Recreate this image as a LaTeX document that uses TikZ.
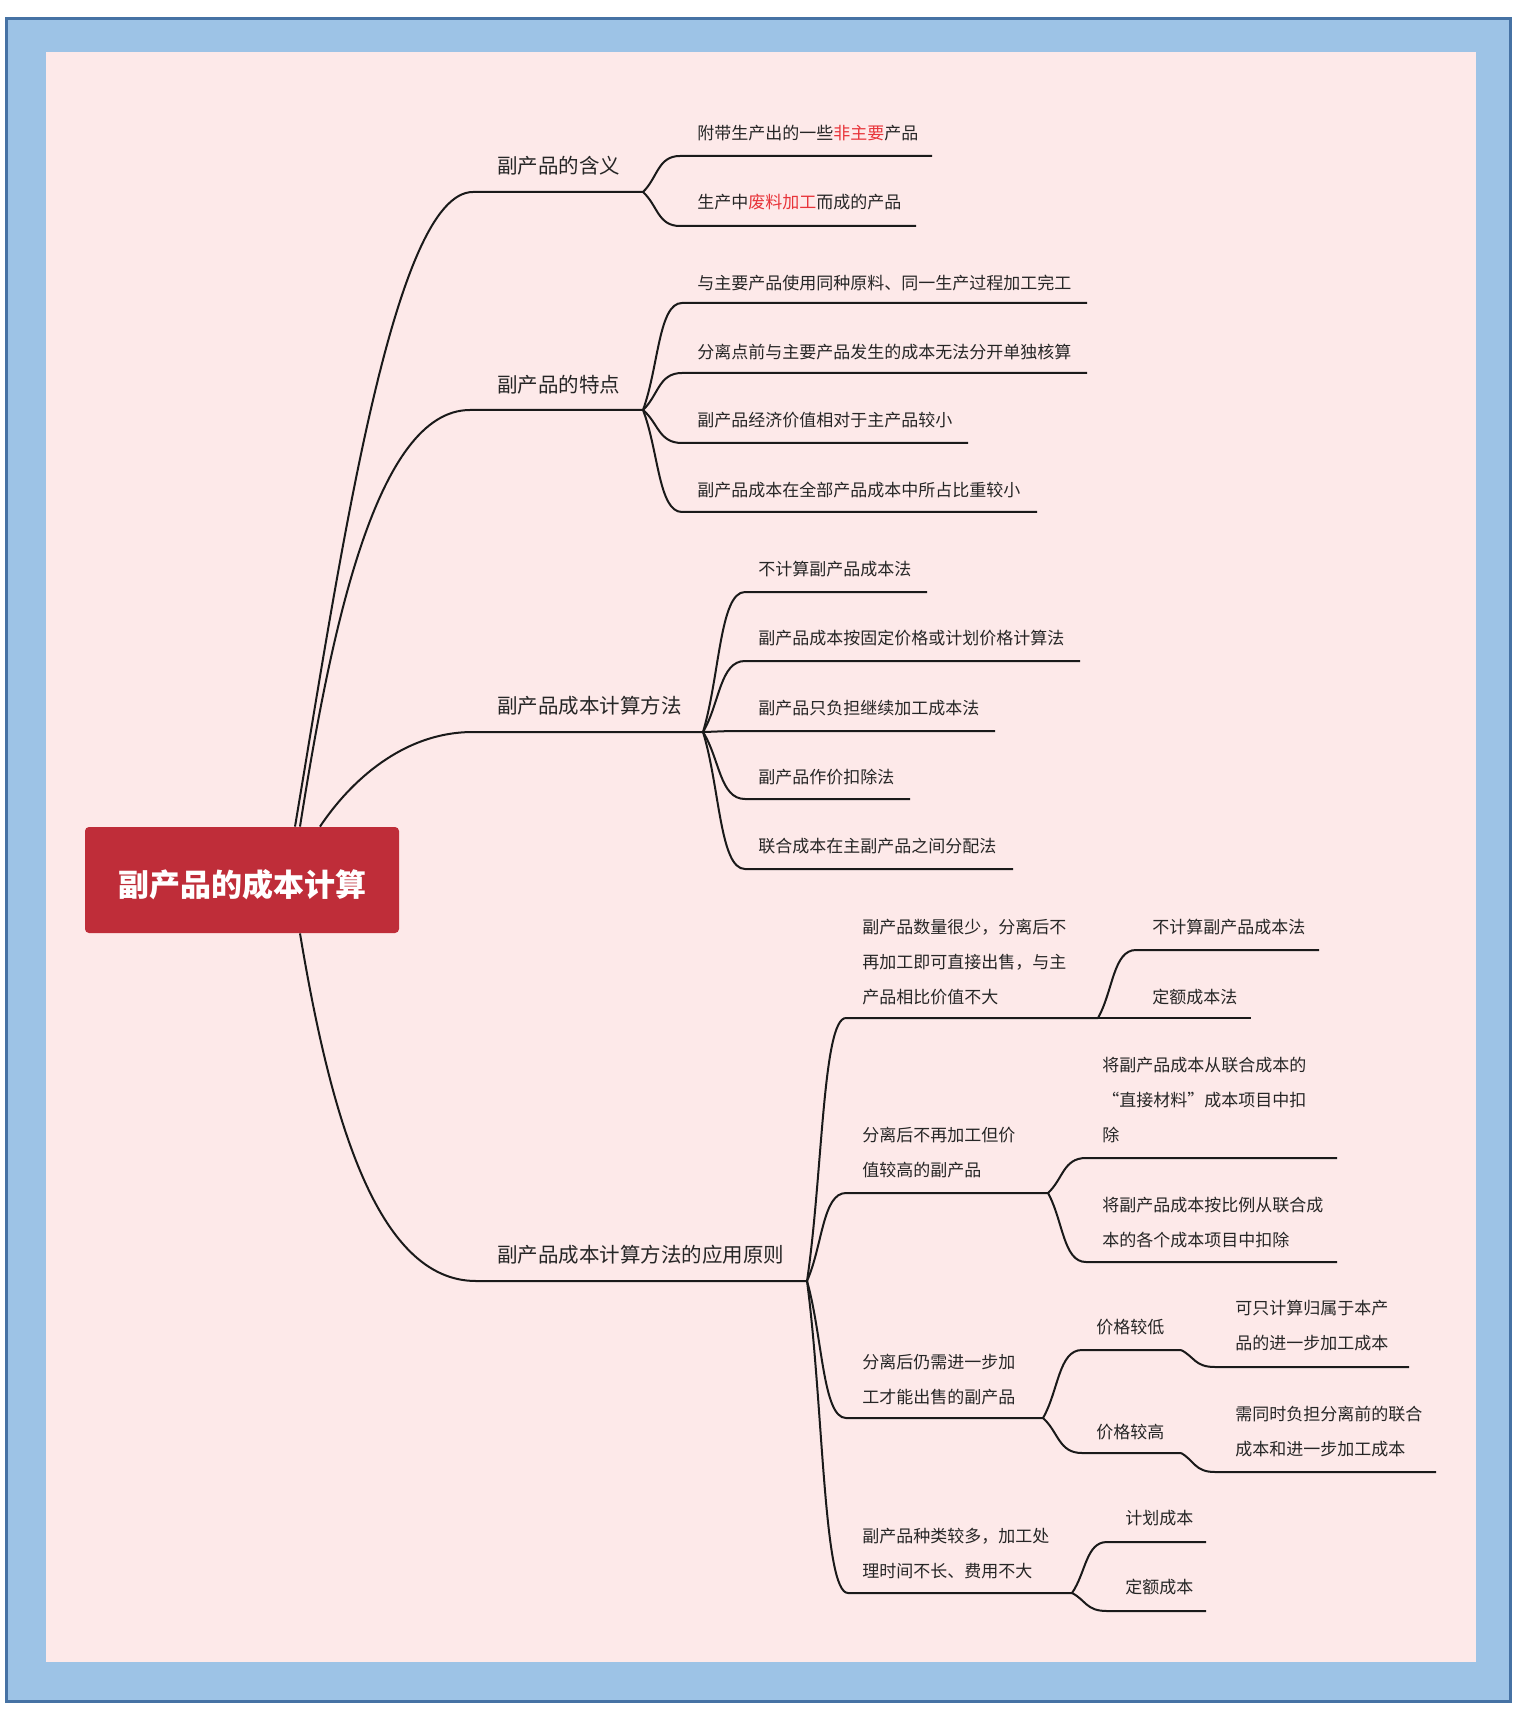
\documentclass[tikz,border=0pt]{standalone}
\usepackage{fontspec}
\setmainfont{Noto Sans CJK SC}
\usetikzlibrary{calc}
\definecolor{frameD}{HTML}{4672A4}
\definecolor{frameL}{HTML}{9DC3E6}
\definecolor{bgpink}{HTML}{FDE9E9}
\definecolor{rootred}{HTML}{BF2D39}
\definecolor{txt}{HTML}{262626}
\definecolor{hl}{HTML}{E8343A}
\definecolor{lineblk}{HTML}{1A1A1A}
\tikzset{
  conn/.style={draw=lineblk, line width=1pt},
  rootbox/.style={fill=rootred, rounded corners=2pt, minimum width=157pt, minimum height=53pt, text=white, inner sep=0pt, text height=18pt, text depth=1.9pt, font=\fontsize{15.5}{18}\selectfont\bfseries},
  tone/.style={anchor=west, inner sep=0pt, text=txt, font=\fontsize{10.25}{12}\selectfont},
  ttwo/.style={anchor=west, inner sep=0pt, text=txt, align=left, font=\fontsize{8.5}{17.5}\selectfont},
}
\newcommand\kidline[3]{\draw[conn] (#1) .. controls ($(#1)!0.4!(#2)$) and ($(#2)!0.6!(#1|-#2)$) .. (#2) -- (#3);}
\begin{document}
\begin{tikzpicture}[x=0.5pt,y=-0.5pt]
\useasboundingbox (0,0) rectangle (1519,1716);
% frame
\fill[frameD] (5,17) rectangle (1512,1703);
\fill[frameL] (8,20) rectangle (1509,1700);
\fill[bgpink] (46,52) rectangle (1476,1662);

% root
\node[rootbox] (root) at (242,880) {副产品的成本计算};
\coordinate (rA) at ($(root.north)+(53,0)$);
\coordinate (rB) at ($(root.north)+(58,0)$);
\coordinate (rC) at ($(root.north)+(78,0)$);
\coordinate (rD) at ($(root.south)+(58,0)$);

% level 1
\node[tone] (L1) at (497,166) {副产品的含义};
\node[tone] (L2) at (497,385) {副产品的特点};
\node[tone] (L3) at (497,706) {副产品成本计算方法};
\node[tone] (L4) at (497,1255) {副产品成本计算方法的应用原则};
\coordinate (L1s) at (473,192); \coordinate (L1e) at (643,192);
\coordinate (L2s) at (470,410); \coordinate (L2e) at (643,410);
\coordinate (L3s) at (473,732); \coordinate (L3e) at (703,732);
\coordinate (L4s) at (476,1281); \coordinate (L4e) at (807,1281);
\draw[conn] (rA) .. controls +(45,-267) and +(-80,0) .. (L1s) -- (L1e);
\draw[conn] (rB) .. controls +(30,-190) and +(-95,0) .. (L2s) -- (L2e);
\draw[conn] (rC) .. controls +(30,-45) and +(-70,0) .. (L3s) -- (L3e);
\draw[conn] (rD) .. controls +(30,180) and +(-100,0) .. (L4s) -- (L4e);

% children of 含义
\node[ttwo] (a1) at (697,133) {附带生产出的一些\textcolor{hl}{非主要}产品};
\node[ttwo] (a2) at (697,202) {生产中\textcolor{hl}{废料加工}而成的产品};
\coordinate (a1s) at (680,156); \coordinate (a1e) at (932,156);
\coordinate (a2s) at (680,226); \coordinate (a2e) at (916,226);
\kidline{L1e}{a1s}{a1e}
\kidline{L1e}{a2s}{a2e}

% children of 特点
\node[ttwo] (b1) at (697,283) {与主要产品使用同种原料、同一生产过程加工完工};
\node[ttwo] (b2) at (697,352) {分离点前与主要产品发生的成本无法分开单独核算};
\node[ttwo] (b3) at (697,420) {副产品经济价值相对于主产品较小};
\node[ttwo] (b4) at (697,490) {副产品成本在全部产品成本中所占比重较小};
\coordinate (b1s) at (682,303); \coordinate (b1e) at (1087,303);
\coordinate (b2s) at (682,373); \coordinate (b2e) at (1087,373);
\coordinate (b3s) at (682,443); \coordinate (b3e) at (968,443);
\coordinate (b4s) at (682,512); \coordinate (b4e) at (1037,512);
\kidline{L2e}{b1s}{b1e}
\kidline{L2e}{b2s}{b2e}
\kidline{L2e}{b3s}{b3e}
\kidline{L2e}{b4s}{b4e}

% children of 成本计算方法
\node[ttwo] (c1) at (758,569) {不计算副产品成本法};
\node[ttwo] (c2) at (758,638) {副产品成本按固定价格或计划价格计算法};
\node[ttwo] (c3) at (758,708) {副产品只负担继续加工成本法};
\node[ttwo] (c4) at (758,777) {副产品作价扣除法};
\node[ttwo] (c5) at (758,846) {联合成本在主副产品之间分配法};
\coordinate (c1s) at (745,592); \coordinate (c1e) at (927,592);
\coordinate (c2s) at (745,661); \coordinate (c2e) at (1080,661);
\coordinate (c3s) at (745,731); \coordinate (c3e) at (995,731);
\coordinate (c4s) at (745,799); \coordinate (c4e) at (910,799);
\coordinate (c5s) at (745,869); \coordinate (c5e) at (1013,869);
\kidline{L3e}{c1s}{c1e}
\kidline{L3e}{c2s}{c2e}
\kidline{L3e}{c3s}{c3e}
\kidline{L3e}{c4s}{c4e}
\kidline{L3e}{c5s}{c5e}

% children of 应用原则
\node[ttwo] (dA) at (862,962) {副产品数量很少，分离后不\\再加工即可直接出售，与主\\产品相比价值不大};
\node[ttwo] (dB) at (862,1152.5) {分离后不再加工但价\\值较高的副产品};
\node[ttwo] (dC) at (862,1379.5) {分离后仍需进一步加\\工才能出售的副产品};
\node[ttwo] (dD) at (862,1553.5) {副产品种类较多，加工处\\理时间不长、费用不大};
\coordinate (dAs) at (846,1018); \coordinate (dAe) at (1098,1018);
\coordinate (dBs) at (846,1193); \coordinate (dBe) at (1048,1193);
\coordinate (dCs) at (846,1418); \coordinate (dCe) at (1043,1418);
\coordinate (dDs) at (848,1593); \coordinate (dDe) at (1072,1593);
\kidline{L4e}{dAs}{dAe}
\kidline{L4e}{dBs}{dBe}
\kidline{L4e}{dCs}{dCe}
\kidline{L4e}{dDs}{dDe}

% A children
\node[ttwo] (A1) at (1152,927) {不计算副产品成本法};
\node[ttwo] (A2) at (1152,997) {定额成本法};
\coordinate (A1s) at (1136,950); \coordinate (A1e) at (1319,950);
\coordinate (A2s) at (1136,1018); \coordinate (A2e) at (1251,1018);
\kidline{dAe}{A1s}{A1e}
\kidline{dAe}{A2s}{A2e}

% B children
\node[ttwo] (B1) at (1102,1100) {将副产品成本从联合成本的\\“直接材料”成本项目中扣\\除};
\node[ttwo] (B2) at (1102,1222.5) {将副产品成本按比例从联合成\\本的各个成本项目中扣除};
\coordinate (B1s) at (1086,1158); \coordinate (B1e) at (1337,1158);
\coordinate (B2s) at (1086,1262); \coordinate (B2e) at (1337,1262);
\kidline{dBe}{B1s}{B1e}
\kidline{dBe}{B2s}{B2e}

% C children
\node[ttwo] (C1) at (1096,1327) {价格较低};
\node[ttwo] (C2) at (1096,1432) {价格较高};
\coordinate (C1s) at (1082,1350); \coordinate (C1e) at (1181,1350);
\coordinate (C2s) at (1082,1453); \coordinate (C2e) at (1181,1453);
\kidline{dCe}{C1s}{C1e}
\kidline{dCe}{C2s}{C2e}
\node[ttwo] (C1a) at (1235,1325.5) {可只计算归属于本产\\品的进一步加工成本};
\node[ttwo] (C2a) at (1235,1431.5) {需同时负担分离前的联合\\成本和进一步加工成本};
\coordinate (C1as) at (1215,1367); \coordinate (C1ae) at (1409,1367);
\coordinate (C2as) at (1215,1472); \coordinate (C2ae) at (1436,1472);
\kidline{C1e}{C1as}{C1ae}
\kidline{C2e}{C2as}{C2ae}

% D children
\node[ttwo] (D1) at (1125,1518) {计划成本};
\node[ttwo] (D2) at (1125,1587) {定额成本};
\coordinate (D1s) at (1107,1542); \coordinate (D1e) at (1206,1542);
\coordinate (D2s) at (1107,1611); \coordinate (D2e) at (1206,1611);
\kidline{dDe}{D1s}{D1e}
\kidline{dDe}{D2s}{D2e}
\end{tikzpicture}
\end{document}
